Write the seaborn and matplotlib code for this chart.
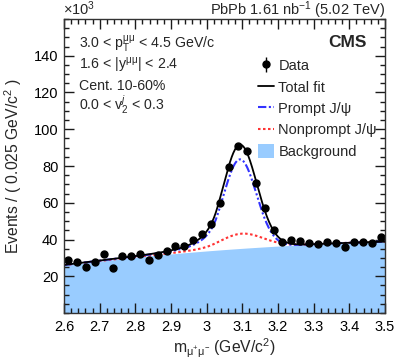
import numpy as np
import pandas as pd
import matplotlib
matplotlib.use("Agg")
import matplotlib.pyplot as plt
import seaborn as sns
from matplotlib.patches import Patch
from matplotlib.lines import Line2D
from matplotlib.ticker import MultipleLocator, FixedLocator

# ---------------- data ----------------
bin_centers = [2.6125, 2.6375, 2.6625, 2.6875, 2.7125, 2.7375, 2.7625, 2.7875, 2.8125,
               2.8375, 2.8625, 2.8875, 2.9125, 2.9375, 2.9625, 2.9875, 3.0125, 3.0375,
               3.0625, 3.0875, 3.1125, 3.1375, 3.1625, 3.1875, 3.2125, 3.2375, 3.2625,
               3.2875, 3.3125, 3.3375, 3.3625, 3.3875, 3.4125, 3.4375, 3.4625, 3.4875]
events = [28.8, 27.7, 25.0, 27.7, 32.1, 24.5, 31.2, 31.2, 32.1,
          28.6, 31.5, 33.7, 36.2, 36.2, 39.5, 42.8, 48.7, 60.1,
          79.5, 90.8, 87.9, 70.8, 57.2, 45.1, 38.4, 40.0, 39.0,
          37.9, 37.3, 38.8, 38.0, 35.7, 38.8, 38.4, 37.9, 41.5]
event_err = 0.4

# fit model parameters, in units of 10^3 events
bkg_coef = [26.0, 23.6, -10.4]          # polynomial in (m - 2.6)
prompt_amp, prompt_mean, prompt_sigma = 48.5, 3.093, 0.046
nonprompt_amp, nonprompt_mean, nonprompt_sigma = 8.0, 3.098, 0.060
cb_alpha, cb_n = 1.4, 3.0

x_ticks = [2.6, 2.7, 2.8, 2.9, 3.0, 3.1, 3.2, 3.3, 3.4, 3.5]
x_ticklabels = ["2.6", "2.7", "2.8", "2.9", "3", "3.1", "3.2", "3.3", "3.4", "3.5"]
y_ticks = [20, 40, 60, 80, 100, 120, 140]

# ---------------- model evaluation ----------------
def crystal_ball(m, amp, mean, sigma, alpha, n):
    t = (m - mean) / sigma
    A = (n / alpha) ** n * np.exp(-alpha ** 2 / 2)
    B = n / alpha - alpha
    out = np.where(t > -alpha, np.exp(-t ** 2 / 2), A * np.abs(B - t) ** (-n))
    return amp * out

m = np.linspace(2.6, 3.5, 600)
bkg = np.polyval(bkg_coef[::-1], m - 2.6)
prompt = crystal_ball(m, prompt_amp, prompt_mean, prompt_sigma, cb_alpha, cb_n)
nonprompt = crystal_ball(m, nonprompt_amp, nonprompt_mean, nonprompt_sigma, cb_alpha, cb_n)
curves = pd.DataFrame({"m": m, "bkg": bkg, "prompt": bkg + prompt,
                       "nonprompt": bkg + nonprompt, "total": bkg + prompt + nonprompt})
data = pd.DataFrame({"m": bin_centers, "events": events})

# ---------------- style ----------------
sns.set_theme(style="ticks", rc={"axes.axisbelow": False})
plt.rcParams["font.family"] = ["Liberation Sans", "DejaVu Sans"]
plt.rcParams["mathtext.fontset"] = "custom"
plt.rcParams["mathtext.rm"] = "Liberation Sans"
plt.rcParams["mathtext.it"] = "Liberation Sans:italic"
plt.rcParams["mathtext.bf"] = "Liberation Sans:bold"
plt.rcParams["mathtext.default"] = "regular"

fig = plt.figure(figsize=(3.99, 3.60), dpi=100)
ax = fig.add_axes([64 / 399, 1 - 313 / 360, 321 / 399, 294 / 360])
ax.set_axisbelow(False)

bkg_color = "#99ccff"
blue_ls = (0, (4, 1.2, 1, 1.2, 1, 1.2))
red_ls = (0, (1.2, 1.2))
ax.fill_between(curves["m"], 0, curves["bkg"], color=bkg_color, lw=0, zorder=1)
sns.lineplot(data=curves, x="m", y="nonprompt", ax=ax, color="#ff3333", lw=1.5,
             linestyle=red_ls, zorder=2)
sns.lineplot(data=curves, x="m", y="prompt", ax=ax, color="#3333ff", lw=1.5,
             linestyle=blue_ls, zorder=3)
sns.lineplot(data=curves, x="m", y="total", ax=ax, color="black", lw=1.3, zorder=4)
ax.errorbar(data["m"], data["events"], yerr=event_err, fmt="o", color="black",
            ms=5, elinewidth=1, capsize=0, zorder=5)

ax.set_xlim(2.6, 3.5)
ax.set_ylim(0, 160)
ax.xaxis.set_major_locator(FixedLocator(x_ticks))
ax.set_xticklabels(x_ticklabels)
ax.xaxis.set_minor_locator(MultipleLocator(0.02))
ax.yaxis.set_major_locator(FixedLocator(y_ticks))
ax.yaxis.set_minor_locator(MultipleLocator(5))
ax.xaxis.set_ticks_position("both")
ax.yaxis.set_ticks_position("both")
ax.tick_params(which="both", direction="in", top=True, right=True, bottom=True, left=True,
               labelsize=10.5, width=1.0, color="#1a1a1a", labelcolor="black")
ax.tick_params(which="major", length=7.5)
ax.tick_params(which="minor", length=3.8)
ax.tick_params(axis="y", pad=4)
ax.tick_params(axis="x", pad=5)
for s in ax.spines.values():
    s.set_linewidth(1.0)
    s.set_color("#333333")
    s.set_zorder(6)

ax.set_xlabel(r"m$_{\mu^{+}\mu^{-}}$ (GeV/c$^{2}$)", fontsize=11.3, labelpad=2)
ax.set_ylabel(r"Events / ( 0.025 GeV/c$^{2}$ )", fontsize=11.3, labelpad=7)

fig.text(63 / 399, 1 - 15 / 360, r"$\times$10$^{3}$", fontsize=10.5, ha="left", va="baseline")
fig.text(385 / 399, 1 - 15 / 360, r"PbPb 1.61 nb$^{-1}$ (5.02 TeV)", fontsize=10.5,
         ha="right", va="baseline")

ax.text(0.944, 0.906, "CMS", transform=ax.transAxes, fontsize=12.5, fontweight="bold",
        ha="right", va="baseline")
tfs = 10.2
ax.text(0.047, 0.900, r"3.0 < p$_{T}^{\mu\mu}$ < 4.5 GeV/c", transform=ax.transAxes,
        fontsize=tfs, ha="left", va="baseline")
ax.text(0.047, 0.829, r"1.6 < |y$^{\mu\mu}$| < 2.4", transform=ax.transAxes,
        fontsize=tfs, ha="left", va="baseline")
ax.text(0.047, 0.7585, "Cent. 10-60%", transform=ax.transAxes,
        fontsize=tfs, ha="left", va="baseline")
ax.text(0.047, 0.688, r"0.0 < v$_{2}^{\mathit{j}}$ < 0.3", transform=ax.transAxes,
        fontsize=tfs, ha="left", va="baseline")

eb = ax.errorbar([], [], yerr=[], fmt="o", color="black", ms=5, elinewidth=1, capsize=0)
handles = [
    eb,
    Line2D([], [], color="black", lw=1.3),
    Line2D([], [], color="#3333ff", lw=1.5, linestyle=blue_ls),
    Line2D([], [], color="#ff3333", lw=1.5, linestyle=red_ls),
    Patch(facecolor=bkg_color, edgecolor="none"),
]
labels = ["Data", "Total fit", "Prompt J/ψ", "Nonprompt J/ψ", "Background"]
leg = ax.legend(handles, labels, loc="upper left", bbox_to_anchor=(0.604, 0.866),
                frameon=False, fontsize=10.5, handlelength=1.1, handleheight=1.1,
                handletextpad=0.3, labelspacing=0.44, borderaxespad=0, borderpad=0)

fig.savefig("out.png", dpi=100)
